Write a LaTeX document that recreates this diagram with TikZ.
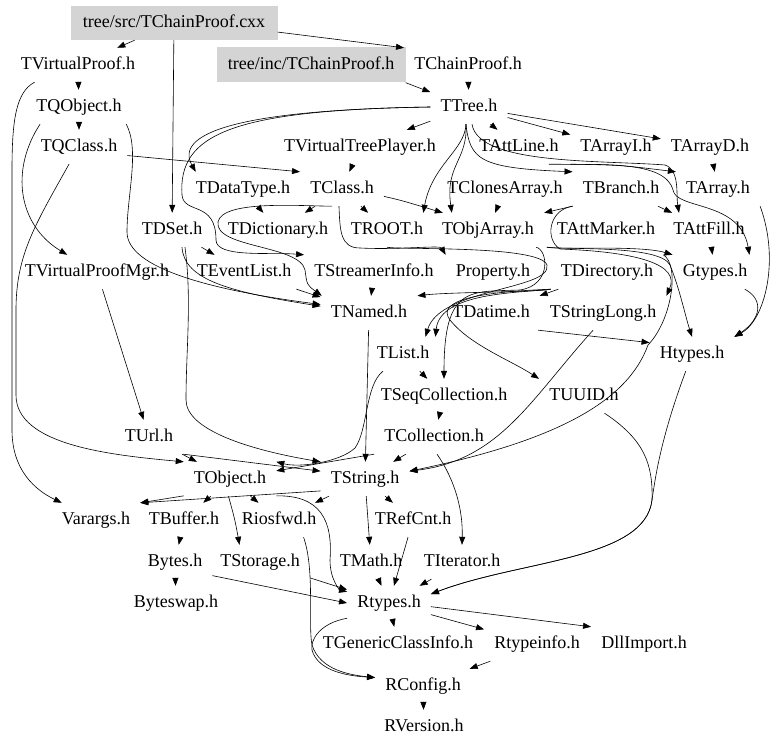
\documentclass[tikz,border=0pt]{standalone}
\usepackage{fontspec}
\setmainfont{Liberation Serif}
\usetikzlibrary{arrows.meta}

\begin{document}
\begin{tikzpicture}[x=1pt,y=-1pt,
  hdr/.style={font=\fontsize{18}{20}\selectfont, text height=13pt, text depth=4pt,
    minimum height=34pt, inner xsep=10pt, inner ysep=0pt},
  srcbox/.style={hdr, fill=black!17, inner xsep=0pt},
  dep/.style={-{Triangle[length=8pt,width=6pt]}, line width=0.6pt}]
\useasboundingbox (0,0) rectangle (779,749);

%top
\node[srcbox, minimum width=207pt] (cxx) at (174,23) {tree/src/TChainProof.cxx};
\node[srcbox, minimum width=189pt, minimum height=35pt] (inch) at (311,65) {tree/inc/TChainProof.h};
\node[hdr] (vproof) at (78,65) {TVirtualProof.h};
\node[hdr] (chainh) at (468,65) {TChainProof.h};
\node[hdr] (tqobject) at (79,107) {TQObject.h};
\node[hdr] (tree) at (469,107) {TTree.h};
\node[hdr] (tqclass) at (79,147) {TQClass.h};
\node[hdr] (vtplayer) at (360,147) {TVirtualTreePlayer.h};
\node[hdr] (attline) at (519,147) {TAttLine.h};
\node[hdr] (arrayi) at (616,147) {TArrayI.h};
\node[hdr] (arrayd) at (710,147) {TArrayD.h};
\node[hdr] (datatype) at (243,189) {TDataType.h};
\node[hdr] (tclass) at (342,189) {TClass.h};
\node[hdr] (clones) at (505,189) {TClonesArray.h};
\node[hdr] (branch) at (621,189) {TBranch.h};
\node[hdr] (tarray) at (718,189) {TArray.h};
\node[hdr] (dset) at (172,230) {TDSet.h};
\node[hdr] (dict) at (278,230) {TDictionary.h};
\node[hdr] (troot) at (387,230) {TROOT.h};
\node[hdr] (objarray) at (488,230) {TObjArray.h};
\node[hdr] (attmarker) at (606,230) {TAttMarker.h};
\node[hdr] (attfill) at (709,230) {TAttFill.h};
%middle
\node[hdr] (proofmgr) at (97,272) {TVirtualProofMgr.h};
\node[hdr] (evlist) at (244,272) {TEventList.h};
\node[hdr] (streamer) at (374,272) {TStreamerInfo.h};
\node[hdr] (property) at (493,272) {Property.h};
\node[hdr] (tdir) at (607,272) {TDirectory.h};
\node[hdr] (gtypes) at (715,272) {Gtypes.h};
\node[hdr] (tnamed) at (369,313) {TNamed.h};
\node[hdr] (datime) at (491,313) {TDatime.h};
\node[hdr] (strlong) at (603,313) {TStringLong.h};
\node[hdr] (tlist) at (403,354) {TList.h};
\node[hdr] (htypes) at (692,354) {Htypes.h};
\node[hdr] (seqcoll) at (444,396) {TSeqCollection.h};
\node[hdr] (uuid) at (584,396) {TUUID.h};
\node[hdr] (turl) at (149,437) {TUrl.h};
\node[hdr] (coll) at (434,437) {TCollection.h};
%bottom
\node[hdr] (tobject) at (230,479) {TObject.h};
\node[hdr] (tstring) at (365,479) {TString.h};
\node[hdr] (varargs) at (96,520) {Varargs.h};
\node[hdr] (buffer) at (184,520) {TBuffer.h};
\node[hdr] (riosfwd) at (279,520) {Riosfwd.h};
\node[hdr] (refcnt) at (413,520) {TRefCnt.h};
\node[hdr] (bytes) at (175,562) {Bytes.h};
\node[hdr] (storage) at (260,562) {TStorage.h};
\node[hdr] (tmath) at (371,562) {TMath.h};
\node[hdr] (iter) at (462,562) {TIterator.h};
\node[hdr] (byteswap) at (176,603) {Byteswap.h};
\node[hdr] (rtypes) at (389,603) {Rtypes.h};
\node[hdr] (genclass) at (398,644) {TGenericClassInfo.h};
\node[hdr] (rtypeinfo) at (537,644) {Rtypeinfo.h};
\node[hdr] (dllimport) at (644,644) {DllImport.h};
\node[hdr] (rconfig) at (423,686) {RConfig.h};
\node[hdr] (rversion) at (424,727) {RVersion.h};

%top left
\draw[dep] (cxx) -- (vproof);
\draw[dep] (cxx) -- (dset);
\draw[dep] (cxx.-5) -- (chainh.north west);
\draw[dep] (inch.south east) -- (tree);
\draw[dep] (chainh) -- (tree);
\draw[dep] (vproof) -- (tqobject);
\draw[dep] (tqobject) -- (tqclass);
\draw[dep] ([xshift=24pt]vproof.south west) .. controls (16,92) and (12,120) .. (12,170) -- (12,430) .. controls (12,470) and (35,490) .. ([xshift=10pt]varargs.north west);
\draw[dep] ([xshift=14pt]tqobject.south west) .. controls (10,170) and (18,225) .. (proofmgr.150);
\draw[dep] ([xshift=-10pt]tqclass.south) .. controls (35,225) and (16,255) .. (16,310) -- (16,395) .. controls (16,445) and (110,455) .. (tobject.north west);
\draw[dep] (tqclass.-10) -- (tclass.north west);
\draw[dep] (tqobject.-20) .. controls (140,150) and (127,195) .. (127,232) .. controls (127,268) and (210,290) .. (tnamed.170);
\draw[dep] (proofmgr) -- (turl);
\draw[dep] (dset) -- (evlist);
\draw[dep] ([xshift=10pt]dset.south) .. controls (184,280) and (230,292) .. (tnamed.172);
\draw[dep] ([xshift=13pt]dset.south) .. controls (192,300) and (186,350) .. (186,400) .. controls (186,430) and (250,450) .. (tstring.north west);

%top right
\draw[dep] (tree) -- (vtplayer);
\draw[dep] (tree) -- (attline);
\draw[dep] (tree) -- (arrayi);
\draw[dep] (tree) -- (arrayd);
\draw[dep] (arrayd) -- (tarray);
\draw[dep] (arrayi.south west) .. controls (620,165) .. (tarray.north west);
\draw[dep] (tree.west) .. controls (230,110) and (175,135) .. (datatype.160);
\draw[dep] (tree.west) .. controls (230,110) and (178,135) .. (182,195) .. controls (184,215) and (216,200) .. (216,240) .. controls (216,258) and (270,252) .. (streamer.north west);
\draw[dep] (tree.-100) .. controls (470,160) and (480,168) .. (branch.north west);
\draw[dep] (tree.-100) .. controls (468,160) and (445,165) .. ([xshift=20pt]objarray.north west);
\draw[dep] (tree.-100) .. controls (465,150) and (432,165) .. ([xshift=-10pt]troot.north east);
\draw[dep] (tree.-80) .. controls (478,165) and (600,160) .. (665,165) .. controls (680,170) and (676,195) .. ([xshift=-30pt]attfill.north);
\draw[dep] (attline.-30) .. controls (600,165) and (665,160) .. (673,190) .. controls (676,210) and (740,200) .. ([xshift=-8pt]gtypes.north east);
\draw[dep] (vtplayer) -- (tclass);
\draw[dep] (tclass) -- (troot);
\draw[dep] (tclass.-10) .. controls (400,200) .. ([xshift=11pt]objarray.north west);
\draw[dep] (tclass) -- (dict);
\draw[dep] (datatype) -- (dict);
\draw[dep] (clones) -- (objarray);
\draw[dep] (tclass.-120) .. controls (300,206) and (222,200) .. (218,222) .. controls (214,248) and (300,245) .. (305,270) .. controls (307,285) .. (tnamed.160);
\draw[dep] (tclass.-100) .. controls (340,230) and (340,248) .. (360,248) .. controls (400,250) and (440,245) .. (property.north west);
\draw[dep] (branch.south west) -- (objarray.north east);
\draw[dep] (branch) -- (attfill);
\draw[dep] (branch.south west) .. controls (548,210) and (545,240) .. (560,249) .. controls (640,252) and (680,265) .. (strlong.north east);
\draw[dep] (attmarker.south west) .. controls (560,250) and (640,245) .. (gtypes.north west);
\draw[dep] (attmarker.south west) .. controls (570,250) and (660,245) .. (670,265) .. controls (680,290) and (685,315) .. (htypes.north);
\draw[dep] (attfill) -- (gtypes);
\draw[dep] (gtypes.-30) .. controls (765,300) and (760,320) .. (htypes.north east);
\draw[dep] (tarray.south east) .. controls (780,260) and (765,320) .. (htypes.north east);

%middle
\draw[dep] ([xshift=-8pt]objarray.south east) .. controls (548,250) and (552,285) .. (520,290) .. controls (470,292) and (444,285) .. (seqcoll.north);
\draw[dep] (troot.south) .. controls (400,250) and (540,245) .. (547,265) .. controls (552,290) and (440,288) .. ([xshift=-14pt]tlist.north east);
\draw[dep] (tdir.south west) .. controls (540,292) and (450,292) .. (tnamed.north east);
\draw[dep] (tdir.south west) .. controls (520,293) and (440,292) .. ([xshift=-4pt]tlist.north east);
\draw[dep] (tdir) -- (datime);
\draw[dep] (tdir.south west) .. controls (480,292) and (435,300) .. (450,320) .. controls (470,345) and (510,360) .. (uuid.north west);
\draw[dep] (tdir.north east) .. controls (680,265) and (672,320) .. (648,345) .. controls (628,400) and (560,440) .. (tstring.10);
\draw[dep] (strlong.-120) .. controls (530,400) and (500,460) .. (tstring.10);
\draw[dep] (datime.-20) -- (htypes.165);
\draw[dep] (streamer) -- (tnamed);
\draw[dep] (evlist) -- (tnamed);
\draw[dep] (tnamed) -- (tstring);
\draw[dep] ([xshift=-20pt]tlist.south) .. controls (365,385) and (368,430) .. (355,448) .. controls (340,462) and (300,468) .. (tobject.north east);
\draw[dep] (tlist) -- (seqcoll);
\draw[dep] (seqcoll) -- (coll);
\draw[dep] (coll.south west) -- (tobject.10);
\draw[dep] (coll) -- (tstring);
\draw[dep] (coll.-80) .. controls (455,480) and (463,510) .. (iter.north);
\draw[dep] (turl) -- (tobject);
\draw[dep] (turl.south east) -- (tstring.170);

%bottom
\draw[dep] (tobject.-160) -- (varargs.north east);
\draw[dep] (tstring.-165) -- (varargs.north east);
\draw[dep] (tobject) -- (buffer);
\draw[dep] (tobject) -- (riosfwd);
\draw[dep] (tobject.-95) .. controls (235,520) .. (storage.140);
\draw[dep] (tobject.-20) .. controls (320,495) and (333,520) .. (330,560) .. controls (330,580) and (340,590) .. (rtypes.165);
\draw[dep] (tstring) -- (riosfwd);
\draw[dep] (tstring) -- (tmath);
\draw[dep] (tstring) -- (refcnt);
\draw[dep] (buffer) -- (bytes);
\draw[dep] (bytes) -- (byteswap);
\draw[dep] (bytes.-20) -- (rtypes.west);
\draw[dep] (storage) -- (rtypes);
\draw[dep] (tmath) -- (rtypes);
\draw[dep] (refcnt) -- (rtypes);
\draw[dep] (iter) -- (rtypes);
\draw[dep] (htypes.-110) .. controls (660,440) and (655,480) .. (652,500) .. controls (645,560) and (520,560) .. (rtypes.12);
\draw[dep] (uuid.-40) .. controls (645,440) and (653,465) .. (652,500) .. controls (645,560) and (520,560) .. (rtypes.12);
\draw[dep] (riosfwd.-35) .. controls (315,570) and (308,625) .. (312,645) .. controls (320,670) and (350,675) .. (rconfig.170);
\draw[dep] (rtypes.-160) .. controls (320,623) and (310,640) .. (312,650) .. controls (318,672) and (350,676) .. (rconfig.170);
\draw[dep] (rtypes) -- (genclass);
\draw[dep] (rtypes) -- (rtypeinfo);
\draw[dep] (rtypes.-5) -- (dllimport.north west);
\draw[dep] (rtypeinfo) -- (rconfig);
\draw[dep] (rconfig) -- (rversion);
\end{tikzpicture}
\end{document}
